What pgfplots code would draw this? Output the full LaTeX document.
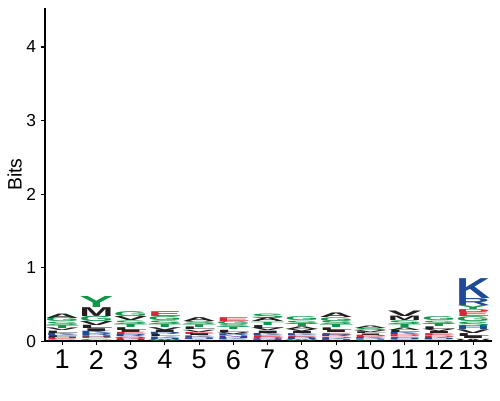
\documentclass[border=0pt]{standalone}
\usepackage{fontspec}
\setmainfont{Liberation Sans}
\usepackage{graphicx}
\usepackage{pgfplots}
\pgfplotsset{compat=1.18}
\usepackage{pgfplotstable}
\definecolor{pg}{RGB}{16,150,72}
\definecolor{pb}{RGB}{30,75,150}
\definecolor{pr}{RGB}{214,40,57}
\definecolor{pk}{RGB}{34,30,31}
\definecolor{pp}{RGB}{94,35,157}
\newdimen\ybit \ybit=52.94pt
\newdimen\lhlen
\def\logoletter#1:#2:#3\relax{\lhlen=#3\ybit\textcolor{#2}{\resizebox{24.5pt}{\lhlen}{\bfseries #1}}}
% stacks from bottom (rank 1) to top (rank 12): height in bits, letter:colour:height
\pgfplotstableread{
x h1 m1 h2 m2 h3 m3 h4 m4 h5 m5 h6 m6 h7 m7 h8 m8 h9 m9 h10 m10 h11 m11 h12 m12
1  .010 W:pk:.010 .012 C:pg:.012 .015 E:pr:.015 .018 H:pb:.018 .025 F:pk:.025 .028 K:pb:.028 .032 L:pk:.032 .035 V:pk:.035 .040 T:pg:.040 .045 S:pg:.045 .050 G:pg:.050 .060 A:pk:.060
2  .014 W:pk:.014 .017 C:pg:.017 .020 D:pr:.020 .024 H:pb:.024 .027 R:pb:.027 .031 K:pb:.031 .037 I:pk:.037 .044 L:pk:.044 .054 V:pk:.054 .072 G:pg:.072 .120 M:pk:.120 .150 Y:pg:.150
3  .011 W:pk:.011 .013 H:pb:.013 .016 D:pr:.016 .020 Q:pp:.020 .027 R:pb:.027 .030 E:pr:.030 .034 I:pk:.034 .038 L:pk:.038 .043 T:pg:.043 .049 S:pg:.049 .054 V:pk:.054 .065 G:pg:.065
4  .011 C:pg:.011 .013 W:pk:.013 .016 H:pb:.016 .020 K:pb:.020 .027 L:pk:.027 .030 R:pb:.030 .034 I:pk:.034 .038 V:pk:.038 .043 T:pg:.043 .049 S:pg:.049 .054 G:pg:.054 .065 E:pr:.065
5  .009 M:pk:.009 .010 Y:pg:.010 .013 H:pb:.013 .016 D:pr:.016 .022 K:pb:.022 .024 I:pk:.024 .028 E:pr:.028 .030 V:pk:.030 .035 L:pk:.035 .039 T:pg:.039 .043 S:pg:.043 .052 A:pk:.052
6  .009 W:pk:.009 .010 C:pg:.010 .013 K:pb:.013 .016 H:pb:.016 .022 N:pp:.022 .024 R:pb:.024 .028 V:pk:.028 .030 L:pk:.030 .035 T:pg:.035 .039 S:pg:.039 .043 G:pg:.043 .052 E:pr:.052
7  .010 W:pk:.010 .012 H:pb:.012 .015 Q:pp:.015 .018 D:pr:.018 .025 E:pr:.025 .028 K:pb:.028 .032 I:pk:.032 .035 V:pk:.035 .040 L:pk:.040 .045 T:pg:.045 .050 A:pk:.050 .060 S:pg:.060
8  .009 C:pg:.009 .011 W:pk:.011 .014 H:pb:.014 .016 R:pb:.016 .022 E:pr:.022 .025 K:pb:.025 .028 I:pk:.028 .031 V:pk:.031 .036 A:pk:.036 .040 T:pg:.040 .045 S:pg:.045 .053 G:pg:.053
9  .010 W:pk:.010 .012 H:pb:.012 .016 K:pb:.016 .019 D:pr:.019 .026 R:pb:.026 .029 E:pr:.029 .033 I:pk:.033 .036 L:pk:.036 .041 T:pg:.041 .046 S:pg:.046 .051 G:pg:.051 .062 A:pk:.062
10 .006 W:pk:.006 .007 C:pg:.007 .009 H:pb:.009 .010 R:pb:.010 .014 K:pb:.014 .016 E:pr:.016 .018 D:pr:.018 .020 I:pk:.020 .023 L:pk:.023 .026 V:pk:.026 .028 S:pg:.028 .034 A:pk:.034
11 .011 W:pk:.011 .013 C:pg:.013 .016 H:pb:.016 .020 E:pr:.020 .026 D:pr:.026 .029 K:pb:.029 .032 L:pk:.032 .035 A:pk:.035 .043 T:pg:.043 .050 S:pg:.050 .060 M:pk:.060 .075 V:pk:.075
12 .009 W:pk:.009 .011 C:pg:.011 .014 H:pb:.014 .016 K:pb:.016 .022 D:pr:.022 .025 E:pr:.025 .028 I:pk:.028 .031 V:pk:.031 .036 L:pk:.036 .040 T:pg:.040 .045 S:pg:.045 .053 G:pg:.053
13 .030 W:pk:.030 .035 I:pk:.035 .040 L:pk:.040 .050 V:pk:.050 .050 H:pb:.050 .060 S:pg:.060 .065 G:pg:.065 .060 E:pr:.060 .040 D:pr:.040 .055 Y:pg:.055 .095 R:pb:.095 .270 K:pb:.270
}\logo
\pgfplotsset{
  rank/.style={draw=none, mark=none, forget plot,
    point meta=explicit symbolic,
    nodes near coords={\expandafter\logoletter\pgfplotspointmeta\relax},
    every node near coord/.style={anchor=north, inner sep=0pt, outer sep=0pt}}
}
\begin{document}
\begin{tikzpicture}
\begin{axis}[
  scale only axis, width=321.8pt, height=239.8pt,
  xmin=0.5, xmax=13.55, ymin=0, ymax=4.53,
  axis x line*=bottom, axis y line*=left,
  axis line style={-, line width=1pt},
  xtick={1,...,13}, ytick={0,...,4},
  tick align=outside, major tick length=3pt,
  tick style={black, line width=0.8pt},
  /pgf/number format/assume math mode=true,
  x tick label style={font=\fontsize{19.5}{20}\selectfont},
  y tick label style={font=\fontsize{12.5}{13}\selectfont},
  ylabel={\fontsize{14}{16}\selectfont Bits},
  ylabel style={yshift=-3.6pt},
  stack plots=y, clip=false,
]
\addplot[rank] table[x=x,y=h1,meta=m1]{\logo};
\addplot[rank] table[x=x,y=h2,meta=m2]{\logo};
\addplot[rank] table[x=x,y=h3,meta=m3]{\logo};
\addplot[rank] table[x=x,y=h4,meta=m4]{\logo};
\addplot[rank] table[x=x,y=h5,meta=m5]{\logo};
\addplot[rank] table[x=x,y=h6,meta=m6]{\logo};
\addplot[rank] table[x=x,y=h7,meta=m7]{\logo};
\addplot[rank] table[x=x,y=h8,meta=m8]{\logo};
\addplot[rank] table[x=x,y=h9,meta=m9]{\logo};
\addplot[rank] table[x=x,y=h10,meta=m10]{\logo};
\addplot[rank] table[x=x,y=h11,meta=m11]{\logo};
\addplot[rank] table[x=x,y=h12,meta=m12]{\logo};
\end{axis}
\pgfresetboundingbox
\path ([shift={(-32.4pt,-42.5pt)}]current axis.south west) rectangle ([shift={(5.8pt,5.8pt)}]current axis.north east);
\end{tikzpicture}
\end{document}
